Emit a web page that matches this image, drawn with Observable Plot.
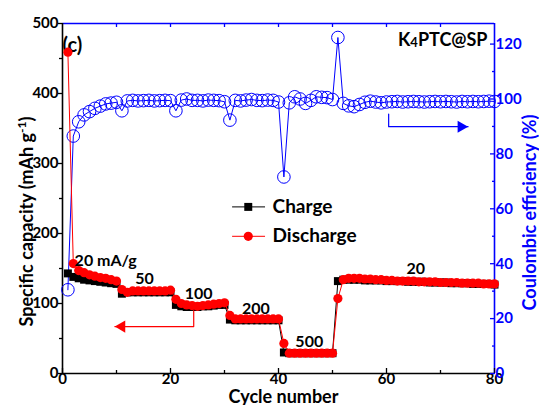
<!DOCTYPE html>
<html><head><meta charset="utf-8">
<script src="https://cdn.jsdelivr.net/npm/d3@7"></script>
<script src="https://cdn.jsdelivr.net/npm/@observablehq/plot@0.6"></script>
<style>
html,body{margin:0;padding:0;background:#fff;}
#chart svg{display:block;}
</style></head><body><div id="chart"></div>
<script>
// ---- data ----
const cycles = d3.range(1, 81);
const charge = [143,138,136,134,133,132,131,130,129,128,
  114,116,116,116,116,116,116,116,116,116,
  98,96,95,95,95,96,96,97,98,98,
  77,76,76,76,76,76,76,76,76,76,
  30,29,29,29,29,29,29,29,29,29,
  132,134,134,134,134,133,133,133,133,132,
  132,132,132,131,131,131,131,130,130,130,
  130,129,129,129,129,128,128,128,128,127];
const discharge = [459,157,147,144,141,139,137,136,134,132,
  120,116,118,118,118,118,118,118,118,119,
  106,100,98,97,96,97,98,99,100,101,
  83,78,78,78,78,78,78,78,78,78,
  43,29,29,29,29,29,29,29,29,29,
  107,134,136,136,136,135,135,134,134,133,
  133,132,132,132,132,131,131,131,131,130,
  130,130,130,129,129,129,129,128,128,128];
const efficiency = [30.5,86.5,91.7,94.2,95.4,96.6,97.4,98.2,98.5,98.8,
  95.7,99.3,99.5,99.3,99.4,99.5,99.3,99.4,99.5,99.4,
  95.7,99.6,100,99.5,99.5,99.3,99.6,99.5,99.4,99.0,
  92.3,99.5,99.3,99.6,99.8,99.5,99.4,99.6,99.5,98.9,
  71.6,98.6,100.8,100.0,98.4,99.5,100.8,100.6,100.5,99.8,
  122.4,98.4,97.5,97.2,98.0,98.8,99.2,98.9,98.6,98.9,
  99.0,99.1,98.9,99.0,99.1,99.0,98.9,99.0,99.1,99.0,
  99.1,99.0,98.9,99.1,99.0,99.1,99.0,99.1,99.2,99.1];

const capacityTicks = [0,100,200,300,400,500];
const capacityMinorTicks = [50,150,250,350,450];
const cycleTicks = [0,20,40,60,80];
const cycleMinorTicks = [10,30,50,70];
const topTicks = [10,20,30,40,50,60,70];
const efficiencyTicks = [0,20,40,60,80,100,120];
const efficiencyMinorTicks = [10,30,50,70,90,110];

const rateLabels = ["20 mA/g","50","100","200","500","20"];
const rateLabelCycle = [8.0,15.2,25.2,35.8,45.7,65.4];
const rateLabelCapacity = [161,135,114,93,45,150];

const legendNames = ["Charge","Discharge"];
const legendCapacity = [238,196];

// annotation arrows (data units)
const redArrowCycle = [24.3,24.3,9.7];
const redArrowCapacity = [90,67,67];
const blueArrowCycle = [60.4,60.4,75.1];
const blueArrowEfficiency = [94.5,89.9,89.9];

// ---- setup ----
const CAP_MAX = 500, EFF_MAX = 127.5;
const k = CAP_MAX / EFF_MAX;
const BLUE = "#0000ff", RED = "#ff0000", BLACK = "#000000";

const rows = cycles.map((c,i)=>({c, ch: charge[i], dis: discharge[i], eff: efficiency[i]*k}));
const rateRows = rateLabels.map((t,i)=>({t, c: rateLabelCycle[i], v: rateLabelCapacity[i]}));
const legendRows = legendNames.map((n,i)=>({n, v: legendCapacity[i]}));
const redArrow = redArrowCycle.map((c,i)=>({c, v: redArrowCapacity[i]}));
const blueArrow = blueArrowCycle.map((c,i)=>({c, v: blueArrowEfficiency[i]*k}));

const tickFont = {fontSize: 15, fontWeight: "bold"};

const plot = Plot.plot({
  width: 539, height: 405,
  marginLeft: 62, marginRight: 45, marginTop: 23, marginBottom: 32,
  style: {fontFamily: "Lato, sans-serif", background: "#fff", overflow: "visible"},
  x: {domain: [0,80]},
  y: {domain: [0,CAP_MAX]},
  marks: [
    // frame lines
    Plot.ruleY([CAP_MAX], {stroke: BLUE, strokeWidth: 1.6}),
    Plot.ruleX([80], {stroke: BLUE, strokeWidth: 1.6}),
    Plot.ruleX([0], {stroke: BLACK, strokeWidth: 1.6}),
    Plot.ruleY([0], {stroke: BLACK, strokeWidth: 1.6}),
    // bottom axis
    Plot.axisX({ticks: cycleTicks, tickSize: 0, tickPadding: 0, label: null, ...tickFont, fill: BLACK}),
    Plot.axisX({ticks: cycleTicks, tickSize: -5, fill: "none", stroke: BLACK, strokeWidth: 1.3, label: null}),
    Plot.axisX({ticks: cycleMinorTicks, tickSize: -3, fill: "none", stroke: BLACK, strokeWidth: 1.3, label: null}),
    // top ticks
    Plot.axisX({anchor: "top", ticks: topTicks, tickSize: -3, fill: "none", stroke: BLUE, strokeWidth: 1.3, label: null}),
    // left axis
    Plot.axisY({ticks: capacityTicks, tickSize: 4, tickPadding: 0, label: null, ...tickFont, fill: BLACK, stroke: BLACK, strokeWidth: 1.3}),
    Plot.axisY({ticks: capacityMinorTicks, tickSize: 3, fill: "none", stroke: BLACK, strokeWidth: 1.3, label: null}),
    // right axis
    Plot.axisY({anchor: "right", ticks: efficiencyTicks.map(v=>v*k), tickFormat: v => String(Math.round(v/k)), tickSize: 0, tickPadding: 1, label: null, ...tickFont, fill: BLUE}),
    Plot.axisY({anchor: "right", ticks: efficiencyTicks.map(v=>v*k), tickSize: -5, fill: "none", stroke: BLUE, strokeWidth: 1.3, label: null}),
    Plot.axisY({anchor: "right", ticks: efficiencyMinorTicks.map(v=>v*k), tickSize: -3, fill: "none", stroke: BLUE, strokeWidth: 1.3, label: null}),
    // axis titles
    Plot.text(["Specific capacity (mAh g"], {frameAnchor: "left", rotate: -90, dx: -35, dy: 23, fontSize: 18, fontWeight: "bold", fill: BLACK, textAnchor: "middle"}),
    Plot.text(["Coulombic efficiency (%)"], {frameAnchor: "right", rotate: -90, dx: 36, dy: 14, fontSize: 18, fontWeight: "bold", fill: BLUE, textAnchor: "middle"}),
    Plot.text(["Cycle number"], {frameAnchor: "bottom", dx: 5, dy: 29, fontSize: 18, fontWeight: "bold", fill: BLACK, lineAnchor: "bottom"}),
    // panel labels
    Plot.text(["(c)"], {frameAnchor: "top-left", textAnchor: "start", dx: 0, dy: 14, fontSize: 20, fontWeight: "bold", fill: BLACK}),
    Plot.text(["K4PTC@SP"], {frameAnchor: "top-right", textAnchor: "end", dx: -7, dy: 10, fontSize: 18, fontWeight: "bold", fill: BLACK}),
    // CE series
    Plot.line(rows, {x: "c", y: "eff", stroke: BLUE, strokeWidth: 1}),
    Plot.dot(rows, {x: "c", y: "eff", r: 6.3, stroke: BLUE, fill: "none", strokeWidth: 1}),
    // charge
    Plot.line(rows, {x: "c", y: "ch", stroke: BLACK, strokeWidth: 1}),
    Plot.dot(rows, {x: "c", y: "ch", symbol: "square", r: 4.5, fill: BLACK, stroke: "none"}),
    // discharge
    Plot.line(rows, {x: "c", y: "dis", stroke: RED, strokeWidth: 1}),
    Plot.dot(rows, {x: "c", y: "dis", r: 4.6, fill: RED, stroke: "none"}),
    // rate labels
    Plot.text(rateRows, {x: "c", y: "v", text: "t", fontSize: 16, fontWeight: "bold", fill: BLACK}),
    // arrows
    Plot.line(redArrow, {x: "c", y: "v", stroke: RED, strokeWidth: 1.2}),
    Plot.dot([redArrow[2]], {x: "c", y: "v", symbol: "triangle", rotate: -90, r: 4.5, fill: RED, stroke: "none", dx: 6.9}),
    Plot.line(blueArrow, {x: "c", y: "v", stroke: BLUE, strokeWidth: 1.2}),
    Plot.dot([blueArrow[2]], {x: "c", y: "v", symbol: "triangle", rotate: 90, r: 4.5, fill: BLUE, stroke: "none", dx: -6.9}),
    // legend
    Plot.ruleY(legendRows.slice(0,1), {y: "v", x1: 31.5, x2: 37.6, stroke: BLACK, strokeWidth: 1}),
    Plot.dot(legendRows.slice(0,1), {x: 34.4, y: "v", symbol: "square", r: 4.5, fill: BLACK}),
    Plot.ruleY(legendRows.slice(1), {y: "v", x1: 31.5, x2: 37.6, stroke: RED, strokeWidth: 1}),
    Plot.dot(legendRows.slice(1), {x: 34.4, y: "v", r: 4.6, fill: RED}),
    Plot.text(legendRows, {x: 38.9, y: "v", text: "n", textAnchor: "start", fontSize: 19, fontWeight: "bold", fill: BLACK})
  ]
});

// superscript and smaller digit (kept as real text)
d3.select(plot).selectAll("text").each(function(){
  const t = this.textContent;
  if (t === "Specific capacity (mAh g") {
    const s = d3.select(this);
    s.append("tspan").attr("dy", -7).attr("font-size", 12).text("-1");
    s.append("tspan").attr("dy", 7).text(")");
  } else if (t === "K4PTC@SP") {
    const s = d3.select(this);
    s.text("K");
    s.append("tspan").attr("font-size", 13).attr("dy", 1).text("4");
    s.append("tspan").attr("dy", -1).text("PTC@SP");
  }
});

document.getElementById("chart").appendChild(plot);
</script>
</body></html>
